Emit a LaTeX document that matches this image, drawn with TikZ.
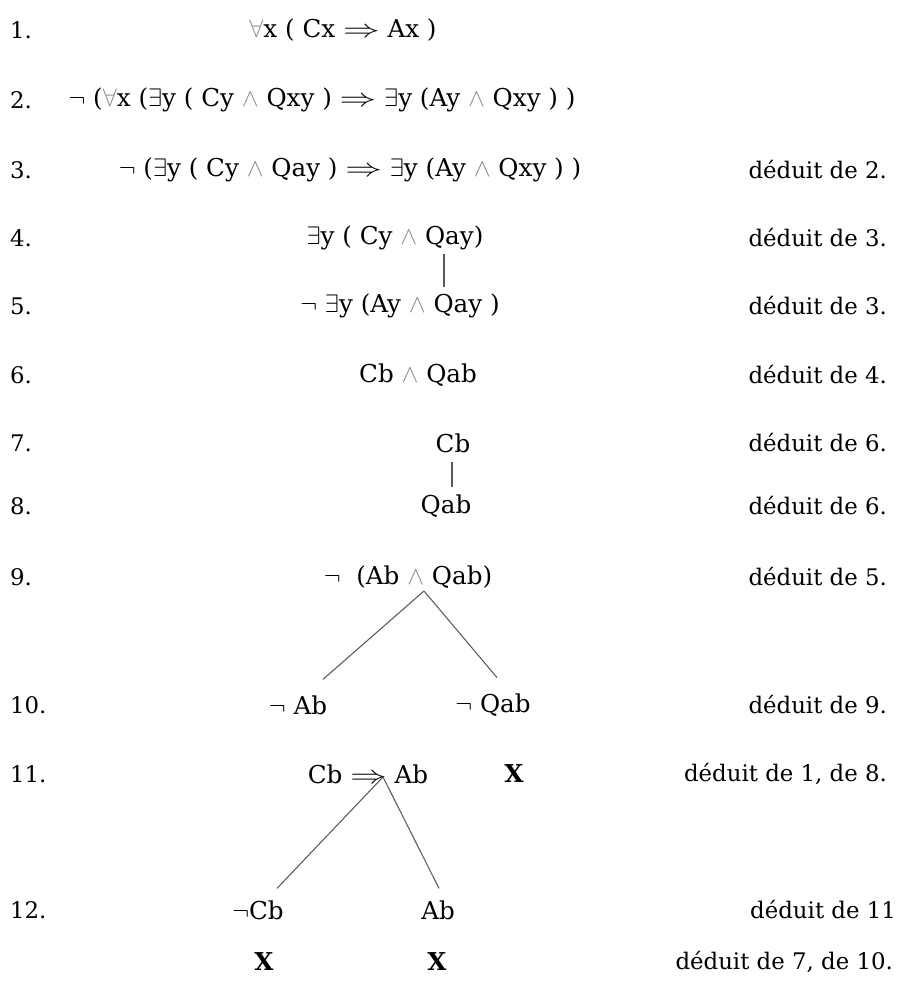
\documentclass[tikz,border=0pt]{standalone}
\usepackage{fontspec}
\usepackage{graphicx}
\setmainfont{DejaVu Serif}
\usetikzlibrary{positioning}

\newcommand{\et}{\textcolor{black!45}{$\wedge$}}
\newcommand{\tous}{\textcolor{black!45}{$\forall$}}
\newcommand{\ex}{$\exists$}
\newcommand{\non}{$\neg$}
\newcommand{\impl}{\scalebox{1.45}[1]{$\Rightarrow$}}

\begin{document}
\begin{tikzpicture}[x=0.02cm, y=-0.02cm,
  every node/.style={inner sep=1pt},
  num/.style={anchor=west, font=\fontsize{13}{15}\selectfont},
  frm/.style={font=\fontsize{14}{16}\selectfont},
  cross/.style={font=\fontsize{14}{16}\selectfont\bfseries},
  just/.style={anchor=east, font=\fontsize{13}{15}\selectfont},
  branch/.style={draw=black!65, line width=0.6pt}
]
  \useasboundingbox (0,0) rectangle (902,982);

  % Line numbers
  \foreach \n/\y in {1/30, 2/100, 3/170, 4/238, 5/306, 6/375, 7/443,
                     8/506, 9/577, 10/705, 11/774, 12/910}
    \node[num] (n\n) at (8,\y) {\n.};

  % Formulas
  \node[frm] (f1)  at (343, 30)  {\tous x ( Cx \impl\ Ax )};
  \node[frm] (f2)  at (322,100)  {\non\ (\tous x (\ex y ( Cy \et\ Qxy ) \impl\ \ex y (Ay \et\ Qxy ) )};
  \node[frm] (f3)  at (350,170)  {\non\ (\ex y ( Cy \et\ Qay ) \impl\ \ex y (Ay \et\ Qxy ) )};
  \node[frm] (f4)  at (395,238)  {\ex y ( Cy \et\ Qay)};
  \node[frm] (f5)  at (400,306)  {\non\ \ex y (Ay \et\ Qay )};
  \node[frm] (f6)  at (418,375)  {Cb \et\ Qab};
  \node[frm] (f7)  at (453,443)  {Cb};
  \node[frm] (f8)  at (446,506)  {Qab};
  \node[frm] (f9)  at (408,577)  {\non\ \ (Ab \et\ Qab)};
  \node[frm] (f10l) at (298,705) {\non\ Ab};
  \node[frm] (f10r) at (493,705) {\non\ Qab};
  \node[frm] (f11) at (368,774)  {Cb \impl\ Ab};
  \node[cross] (x11) at (514,774)  {X};
  \node[frm] (f12l) at (258,910) {\non Cb};
  \node[frm] (f12r) at (438,910) {Ab};
  \node[cross] (x12l) at (264,962) {X};
  \node[cross] (x12r) at (437,962) {X};

  % Justifications
  \node[just] (j3)  at (889,170) {déduit de 2.};
  \node[just] (j4)  at (889,238) {déduit de 3.};
  \node[just] (j5)  at (889,306) {déduit de 3.};
  \node[just] (j6)  at (889,375) {déduit de 4.};
  \node[just] (j7)  at (889,443) {déduit de 6.};
  \node[just] (j8)  at (889,506) {déduit de 6.};
  \node[just] (j9)  at (889,577) {déduit de 5.};
  \node[just] (j10) at (889,705) {déduit de 9.};
  \node[just] (j11) at (889,774) {déduit de 1, de 8.};
  \node[just] (j12) at (898,910) {déduit de 11};
  \node[just] (j13) at (895,962) {déduit de 7, de 10.};

  % Branch points
  \coordinate (a4)  at (444,254);
  \coordinate (a7)  at (452,462);
  \coordinate (a9)  at (424,591);
  \coordinate (a11) at (383,777);

  % Connectors
  \draw[branch] (a4) -- ([yshift=3pt]a4 |- f5.north);
  \draw[branch] (a7) -- ([yshift=3pt]a7 |- f8.north);
  \draw[branch] (a9) -- ([shift={(25,-14)}]f10l.north);
  \draw[branch] (a9) -- ([shift={(4,-14)}]f10r.north);
  \draw[branch] (a11) -- ([shift={(19,-10)}]f12l.north);
  \draw[branch] (a11) -- ([shift={(1,-10)}]f12r.north);
\end{tikzpicture}
\end{document}
